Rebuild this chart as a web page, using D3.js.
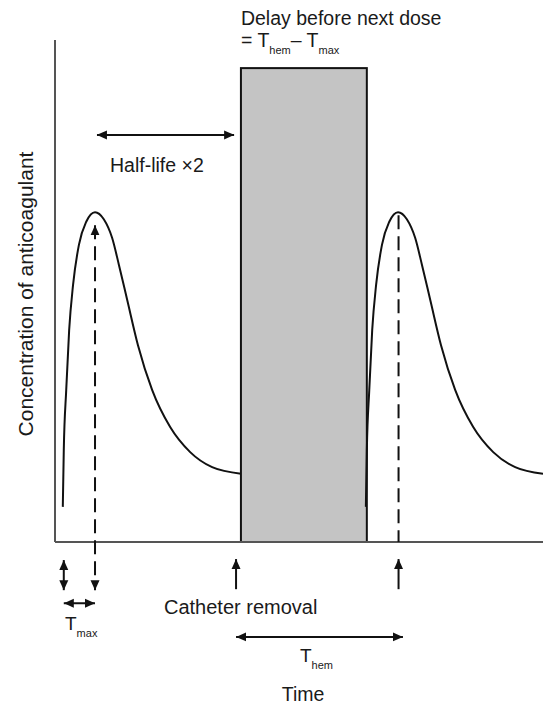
<html>
<head>
<script src="https://cdn.jsdelivr.net/npm/d3@7/dist/d3.min.js"></script>
<style>
  body { margin: 0; background: #fff; }
  text { font-family: "Liberation Sans", Arial, sans-serif; fill: #1a1a1a; }
</style>
</head>
<body>
<svg id="chart" width="543" height="705"></svg>
<script>
// time (arbitrary units, 0-100) and concentration (0-100)
var dose1Time = [1.6, 1.8, 2.3, 2.9, 3.7, 4.9, 6.4, 8.2, 10.0, 11.7, 13.1, 14.8, 17.0, 19.9, 23.6, 27.7, 32.2, 38.1];
var dose1Conc = [7.0, 18.3, 30.3, 42.2, 51.2, 59.2, 63.8, 65.7, 64.3, 60.6, 55.2, 48.2, 39.2, 30.3, 22.9, 17.9, 14.9, 13.6];
var dose2Time = [63.7, 63.9, 64.4, 65.0, 65.8, 67.0, 68.5, 70.3, 72.1, 73.8, 75.2, 76.9, 79.1, 82.0, 85.7, 89.8, 94.3, 100.0];
var dose2Conc = [7.0, 18.3, 30.3, 42.2, 51.2, 59.2, 63.8, 65.7, 64.3, 60.6, 55.2, 48.2, 39.2, 30.3, 22.9, 17.9, 14.9, 13.6];

var catheterTime = 37.1;
var delayStart = 38.1, delayEnd = 63.9, delayTop = 94.4;
var peak1Time = 8.2, peak2Time = 70.4;
var startTime = 1.8;
var halfLifeFrom = 8.6, halfLifeTo = 36.7, halfLifeLevel = 81.1;
var tHemEnd = 71.3;

var yLabel = "Concentration of anticoagulant";
var xLabel = "Time";

var svg = d3.select("#chart");
var x = d3.scaleLinear().domain([0, 100]).range([55, 543]);
var y = d3.scaleLinear().domain([0, 100]).range([542, 40]);

var defs = svg.append("defs");
defs.append("marker")
  .attr("id", "head")
  .attr("viewBox", "0 0 10 10")
  .attr("refX", 10).attr("refY", 5)
  .attr("markerUnits", "userSpaceOnUse")
  .attr("markerWidth", 10).attr("markerHeight", 10)
  .attr("orient", "auto-start-reverse")
  .append("path")
  .attr("d", "M0,0.5 L10,5 L0,9.5 Z")
  .attr("fill", "#111");

// delay box
svg.append("rect")
  .attr("x", x(delayStart)).attr("y", y(delayTop))
  .attr("width", x(delayEnd) - x(delayStart))
  .attr("height", y(0) - y(delayTop))
  .attr("fill", "#c4c4c4").attr("stroke", "#111").attr("stroke-width", 2);

// axes
svg.append("line")
  .attr("x1", x(0)).attr("x2", x(0)).attr("y1", y(100)).attr("y2", y(0))
  .attr("stroke", "#555").attr("stroke-width", 2);
svg.append("line")
  .attr("x1", x(0)).attr("x2", x(100)).attr("y1", y(0)).attr("y2", y(0))
  .attr("stroke", "#555").attr("stroke-width", 2);

// concentration curves
var line = d3.line()
  .x(d => x(d[0])).y(d => y(d[1]))
  .curve(d3.curveMonotoneX);

[[dose1Time, dose1Conc], [dose2Time, dose2Conc]].forEach(function (s) {
  svg.append("path")
    .attr("d", line(d3.zip(s[0], s[1])))
    .attr("fill", "none").attr("stroke", "#111").attr("stroke-width", 2);
});

// dashed peak markers
svg.append("line")
  .attr("x1", x(peak1Time)).attr("x2", x(peak1Time))
  .attr("y1", y(63.1)).attr("y2", y(-9.6))
  .attr("stroke", "#111").attr("stroke-width", 2)
  .attr("stroke-dasharray", "14,7")
  .attr("marker-start", "url(#head)").attr("marker-end", "url(#head)");
svg.append("line")
  .attr("x1", x(peak2Time)).attr("x2", x(peak2Time))
  .attr("y1", y(65.1)).attr("y2", y(0))
  .attr("stroke", "#111").attr("stroke-width", 2)
  .attr("stroke-dasharray", "14,7");

// arrows: [t1, c1, t2, c2, double]
var arrows = [
  [halfLifeFrom, halfLifeLevel, halfLifeTo, halfLifeLevel, true],
  [startTime, -3.6, startTime, -9.6, true],
  [startTime, -12.2, peak1Time, -12.2, true],
  [catheterTime, -9.4, catheterTime, -3.4, false],
  [peak2Time, -9.4, peak2Time, -3.4, false],
  [catheterTime, -18.9, tHemEnd, -18.9, true]
];
svg.selectAll("line.arrow")
  .data(arrows)
  .enter().append("line")
  .attr("class", "arrow")
  .attr("x1", d => x(d[0])).attr("y1", d => y(d[1]))
  .attr("x2", d => x(d[2])).attr("y2", d => y(d[3]))
  .attr("stroke", "#111").attr("stroke-width", 2)
  .attr("marker-start", d => d[4] ? "url(#head)" : null)
  .attr("marker-end", "url(#head)");

// labels
function sub(sel, main, small) {
  sel.append("tspan").text(main);
  sel.append("tspan").attr("font-size", 11).attr("dy", 7).text(small);
}

svg.append("text").attr("x", x(delayStart)).attr("y", 25)
  .attr("font-size", 19.5).text("Delay before next dose");
var eq = svg.append("text").attr("x", x(delayStart)).attr("y", 47).attr("font-size", 19.5);
eq.append("tspan").text("= T");
eq.append("tspan").attr("font-size", 11).attr("dy", 7).text("hem");
eq.append("tspan").attr("dy", -7).text("\u2013 T");
eq.append("tspan").attr("font-size", 11).attr("dy", 7).text("max");

svg.append("text").attr("x", 110).attr("y", 172)
  .attr("font-size", 19.5).text("Half-life \u00d72");

svg.append("text")
  .attr("transform", "translate(33,294) rotate(-90)")
  .attr("text-anchor", "middle").attr("font-size", 21)
  .text(yLabel);

svg.append("text").attr("x", 164).attr("y", 614)
  .attr("font-size", 20).text("Catheter removal");

sub(svg.append("text").attr("x", 65).attr("y", 630).attr("font-size", 19), "T", "max");
sub(svg.append("text").attr("x", 300).attr("y", 662).attr("font-size", 19), "T", "hem");

svg.append("text").attr("x", 303).attr("y", 701)
  .attr("text-anchor", "middle").attr("font-size", 19.5).text(xLabel);
</script>
</body>
</html>
